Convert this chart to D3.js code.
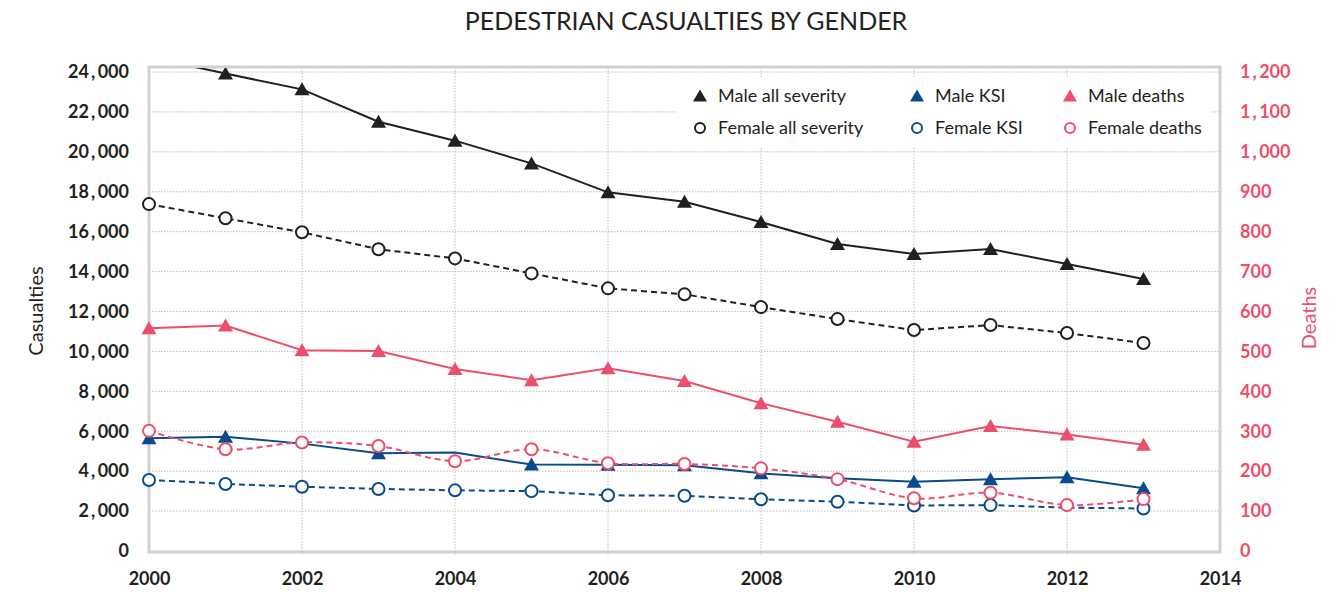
<!DOCTYPE html>
<html><head><meta charset="utf-8">
<script src="https://cdn.jsdelivr.net/npm/d3@7"></script>
<style>body{margin:0;background:#fff;} svg{display:block;font-family:Lato,"Open Sans",sans-serif;}</style>
</head><body>
<svg id="chart" width="1342" height="592"></svg>
<script>
const years = [2000,2001,2002,2003,2004,2005,2006,2007,2008,2009,2010,2011,2012,2013];
const maleAll =    [24750,23920,23130,21510,20560,19420,17970,17500,16480,15380,14880,15130,14380,13630];
const femaleAll =  [17380,16670,15970,15120,14660,13910,13160,12860,12220,11620,11070,11320,10920,10420];
const maleKSI =    [5650,5730,5380,4900,4930,4330,4320,4300,3890,3650,3470,3600,3690,3140];
const maleKSIMarker = [1,1,0,1,0,1,1,1,1,0,1,1,1,1];
const femaleKSI =  [3560,3360,3220,3110,3040,3000,2790,2770,2590,2470,2280,2300,2170,2130];
const femaleKSIMarker = [1,1,1,1,1,1,1,1,1,1,1,1,0,1];
const maleDeaths = [558,565,503,501,456,428,458,426,370,324,274,313,292,266];
const femaleDeaths=[301,255,272,263,225,255,220,218,207,180,132,146,115,130];
const leftTicks = [0,2000,4000,6000,8000,10000,12000,14000,16000,18000,20000,22000,24000];
const rightTicks = [0,100,200,300,400,500,600,700,800,900,1000,1100,1200];
const xTicks = [2000,2002,2004,2006,2008,2010,2012,2014];
const title = "PEDESTRIAN CASUALTIES BY GENDER";

const BLACK="#231f20", BLUE="#0b4a8b", PINK="#ec4f6b";
const svg = d3.select("#chart");
const x = d3.scaleLinear().domain([2000,2014]).range([149,1220]);
const yL = d3.scaleLinear().domain([0,24000]).range([551,72]);
const yR = d3.scaleLinear().domain([0,1200]).range([551,72]);
const pTop=67, pBottom=552, pLeft=149, pRight=1220;

svg.append("text").attr("x",686).attr("y",30).attr("text-anchor","middle")
  .attr("font-size",25).attr("fill","#222").text(title);

// grid
const g = svg.append("g");
g.selectAll("line.h").data(leftTicks.filter(d=>d>0)).join("line")
  .attr("x1",pLeft).attr("x2",pRight+3).attr("y1",d=>yL(d)).attr("y2",d=>yL(d))
  .attr("stroke","#bdbdbd").attr("stroke-width",1).attr("stroke-dasharray","1.5,1.5");
g.selectAll("line.v").data(xTicks.slice(1,-1)).join("line")
  .attr("x1",d=>x(d)).attr("x2",d=>x(d)).attr("y1",pTop).attr("y2",pBottom+4)
  .attr("stroke","#bdbdbd").attr("stroke-width",1).attr("stroke-dasharray","1.5,1.5");

// spaced-comma number labels
const fmt = d3.format(",");
function spaced(sel){
  sel.each(function(d){
    const t = d3.select(this); const parts = fmt(d).split(",");
    t.text(null);
    parts.forEach((p,i)=>{
      if(i>0) t.append("tspan").attr("dx",2).text(",");
      t.append("tspan").attr("dx",i>0?2.5:0).text(p);
    });
  });
}

// axes
const axL = d3.axisLeft(yL).tickValues(leftTicks).tickFormat(fmt).tickSize(0).tickPadding(20);
const gl = svg.append("g").attr("transform",`translate(${pLeft},0)`).call(axL);
gl.select(".domain").remove();
gl.selectAll("text").attr("font-size",18).attr("font-weight","bold").attr("fill","#231f20").attr("font-family","Lato").call(spaced);
const axR = d3.axisRight(yR).tickValues(rightTicks).tickFormat(fmt).tickSize(0).tickPadding(20);
const gr = svg.append("g").attr("transform",`translate(${pRight},0)`).call(axR);
gr.select(".domain").remove();
gr.selectAll("text").attr("font-size",18).attr("font-weight","bold").attr("fill",PINK).attr("font-family","Lato").call(spaced);
const axB = d3.axisBottom(x).tickValues(xTicks).tickFormat(d3.format("d")).tickSize(0).tickPadding(20);
const gb = svg.append("g").attr("transform",`translate(0,${pBottom})`).call(axB);
gb.select(".domain").remove();
gb.selectAll("text").attr("font-size",18).attr("font-weight","bold").attr("fill","#231f20").attr("font-family","Lato");

// frame
svg.append("rect").attr("x",pLeft).attr("y",pTop).attr("width",pRight-pLeft).attr("height",pBottom-pTop)
  .attr("fill","none").attr("stroke","#d4d0cd").attr("stroke-width",3);

svg.append("text").attr("transform","translate(43,311) rotate(-90)").attr("text-anchor","middle")
  .attr("font-size",20).attr("fill","#231f20").text("Casualties");
svg.append("text").attr("transform","translate(1316,318) rotate(-90)").attr("text-anchor","middle")
  .attr("font-size",20).attr("fill",PINK).text("Deaths");

svg.append("clipPath").attr("id","clip").append("rect").attr("x",pLeft-10).attr("y",pTop+1).attr("width",pRight-pLeft+20).attr("height",pBottom-pTop+20);

// legend background
svg.append("rect").attr("x",676).attr("y",77).attr("width",535).attr("height",70).attr("fill","#fff");

const tri = "M0,-7L7.5,6L-7.5,6Z";
const series = [
  {name:"Male all severity", vals:maleAll, y:yL, color:BLACK, dash:null, marker:"tri", mask:null, curve:d3.curveLinear},
  {name:"Female all severity", vals:femaleAll, y:yL, color:BLACK, dash:"6,4", marker:"circ", mask:null, curve:d3.curveLinear},
  {name:"Male KSI", vals:maleKSI, y:yL, color:BLUE, dash:null, marker:"tri", mask:maleKSIMarker, curve:d3.curveLinear},
  {name:"Female KSI", vals:femaleKSI, y:yL, color:BLUE, dash:"6,4", marker:"circ", mask:femaleKSIMarker, curve:d3.curveLinear},
  {name:"Male deaths", vals:maleDeaths, y:yR, color:PINK, dash:null, marker:"tri", mask:null, curve:d3.curveLinear},
  {name:"Female deaths", vals:femaleDeaths, y:yR, color:PINK, dash:"6,4", marker:"circ", mask:null, curve:d3.curveCatmullRom.alpha(0.5)},
];
const plot = svg.append("g").attr("clip-path","url(#clip)");
series.forEach(s=>{
  const line = d3.line().x((d,i)=>x(years[i])).y(d=>s.y(d)).curve(s.curve);
  const gg = plot.append("g");
  gg.append("path").attr("d",line(s.vals)).attr("fill","none").attr("stroke",s.color)
    .attr("stroke-width",2).attr("stroke-dasharray",s.dash);
  const pts = s.vals.map((v,i)=>({v,i})).filter(p=>!s.mask||s.mask[p.i]);
  if(s.marker==="tri"){
    gg.selectAll("path.m").data(pts).join("path").attr("class","m").attr("d",tri)
      .attr("transform",p=>`translate(${x(years[p.i])},${s.y(p.v)})`).attr("fill",s.color);
  } else {
    gg.selectAll("circle").data(pts).join("circle").attr("cx",p=>x(years[p.i])).attr("cy",p=>s.y(p.v))
      .attr("r",6).attr("fill","#fff").attr("stroke",s.color).attr("stroke-width",2);
  }
});

// legend
const legPos = [[700,96],[700,128],[917,96],[917,128],[1070,96],[1070,128]];
series.forEach((s,k)=>{
  const [lx,ly]=legPos[k];
  if(s.marker==="tri") svg.append("path").attr("d","M0,-6.5L7,5.5L-7,5.5Z").attr("transform",`translate(${lx},${ly})`).attr("fill",s.color);
  else svg.append("circle").attr("cx",lx).attr("cy",ly).attr("r",5).attr("fill","#fff").attr("stroke",s.color).attr("stroke-width",2);
  svg.append("text").attr("x",lx+18).attr("y",ly+6).attr("font-size",18).attr("fill","#231f20").text(s.name);
});
</script>
</body></html>
